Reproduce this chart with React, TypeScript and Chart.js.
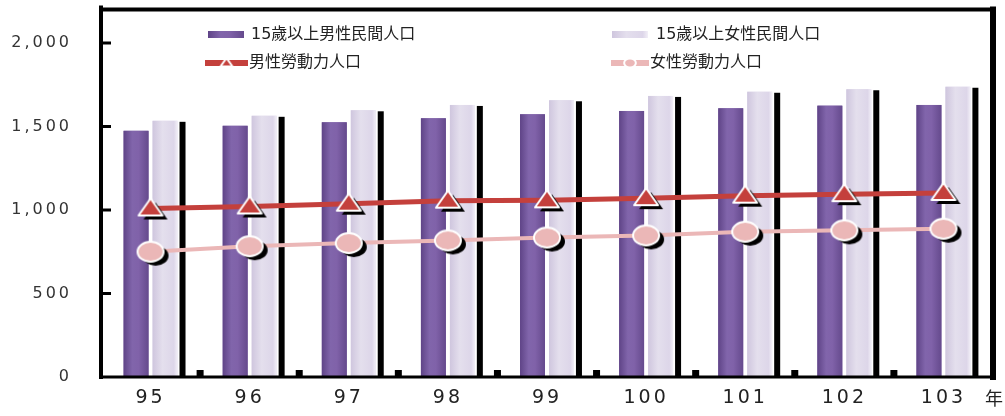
import React, { useEffect, useRef } from "react";
import { Chart, registerables } from "chart.js";

Chart.register(...registerables);

const years = ["95", "96", "97", "98", "99", "100", "101", "102", "103"];
const malePop = [1474, 1504, 1525, 1549, 1573, 1593, 1609, 1625, 1629];
const femalePop = [1534, 1564, 1597, 1629, 1657, 1683, 1708, 1723, 1738];
const maleLabor = [1009, 1021, 1038, 1056, 1058, 1071, 1086, 1095, 1102];
const femaleLabor = [750, 783, 802, 818, 835, 848, 870, 878, 888];
const yTicks = [0, 500, 1000, 1500, 2000];
const seriesNames = [
  "15歲以上男性民間人口",
  "15歲以上女性民間人口",
  "男性勞動力人口",
  "女性勞動力人口",
];
const unitLabel = "年";

const PURPLE = "#7a5ca3";
const LAVENDER = "#ddd7e9";
const RED = "#c4403c";
const PINK = "#ebb7b7";
const FONT = '"DejaVu Sans", "Noto Sans CJK TC", sans-serif';

function makeMarker(kind: "tri" | "ell", fill: string, shadow: boolean, scale = 1) {
  const c = document.createElement("canvas");
  const W = Math.round(44 * scale);
  const H = Math.round(36 * scale);
  c.width = W;
  c.height = H;
  const g = c.getContext("2d")!;
  const cx = W / 2;
  const cy = H / 2;
  const path = (dx: number, dy: number) => {
    g.beginPath();
    if (kind === "tri") {
      g.moveTo(cx + dx, cy - 10 * scale + dy);
      g.lineTo(cx + 12 * scale + dx, cy + 7 * scale + dy);
      g.lineTo(cx - 12 * scale + dx, cy + 7 * scale + dy);
      g.closePath();
    } else {
      g.ellipse(cx + dx, cy + dy, 13 * scale, 10 * scale, 0, 0, Math.PI * 2);
    }
  };
  if (shadow) {
    path(5 * scale, 4 * scale);
    g.fillStyle = "#000";
    g.fill();
  }
  path(0, 0);
  g.fillStyle = fill;
  g.fill();
  g.lineWidth = 2;
  g.strokeStyle = "#fff";
  g.lineJoin = "round";
  g.stroke();
  return c;
}

function purpleGrad(ctx: CanvasRenderingContext2D, x0: number, x1: number) {
  const gr = ctx.createLinearGradient(x0, 0, x1, 0);
  gr.addColorStop(0, "#5f4487");
  gr.addColorStop(0.35, "#8165ab");
  gr.addColorStop(0.6, "#8062a9");
  gr.addColorStop(1, "#654a8d");
  return gr;
}
function lavenderGrad(ctx: CanvasRenderingContext2D, x0: number, x1: number) {
  const gr = ctx.createLinearGradient(x0, 0, x1, 0);
  gr.addColorStop(0, "#cfc6de");
  gr.addColorStop(0.4, "#e4dfed");
  gr.addColorStop(0.85, "#ddd6e9");
  gr.addColorStop(1, "#f2eff7");
  return gr;
}

const decorPlugin = {
  id: "decor",
  beforeDraw(chart: any) {
    (chart.ctx as any).letterSpacing = "3px";
  },
  beforeDatasetDraw(chart: any, args: any) {
    if (args.index !== 1) return;
    const ctx = chart.ctx;
    const meta = chart.getDatasetMeta(1);
    ctx.save();
    ctx.fillStyle = "#000";
    meta.data.forEach((el: any) => {
      const p = el.getProps(["x", "y", "width", "base"], true);
      ctx.fillRect(p.x + p.width / 2 + 2, p.y + 1, 6, p.base - p.y - 1);
    });
    ctx.restore();
  },
  afterDatasetDraw(chart: any, args: any) {
    if (args.index > 1) return;
    const ctx = chart.ctx;
    const meta = chart.getDatasetMeta(args.index);
    ctx.save();
    meta.data.forEach((el: any) => {
      const p = el.getProps(["x", "y", "width", "base"], true);
      const x0 = p.x - p.width / 2;
      const x1 = p.x + p.width / 2;
      ctx.fillStyle = args.index === 0 ? purpleGrad(ctx, x0, x1) : lavenderGrad(ctx, x0, x1);
      ctx.fillRect(x0, p.y, p.width, p.base - p.y);
    });
    ctx.restore();
  },
  beforeDatasetsDraw(chart: any) {
    const ctx = chart.ctx;
    (ctx as any).letterSpacing = "0px";
    const a = chart.chartArea;
    const xs = chart.scales.x;
    ctx.save();
    ctx.fillStyle = "#000";
    for (let i = 1; i < years.length; i++) {
      const bx = (xs.getPixelForValue(i - 1) + xs.getPixelForValue(i)) / 2;
      ctx.fillRect(bx - 3.5, a.bottom - 7, 7, 7);
    }
    ctx.restore();
  },
  afterDatasetsDraw(chart: any) {
    const ctx = chart.ctx;
    const a = chart.chartArea;
    const ys = chart.scales.y;
    ctx.save();
    ctx.strokeStyle = "#000";
    ctx.lineCap = "square";
    ctx.lineWidth = 4;
    ctx.beginPath();
    ctx.moveTo(a.left, a.top);
    ctx.lineTo(a.right, a.top);
    ctx.stroke();
    ctx.lineWidth = 6;
    ctx.beginPath();
    ctx.moveTo(a.right, a.top);
    ctx.lineTo(a.right, a.bottom);
    ctx.stroke();
    ctx.lineWidth = 4;
    ctx.beginPath();
    ctx.moveTo(a.left, a.top - 2);
    ctx.lineTo(a.left, a.bottom);
    ctx.stroke();
    ctx.lineWidth = 3;
    ctx.beginPath();
    ctx.moveTo(a.left, a.bottom);
    ctx.lineTo(a.right, a.bottom);
    ctx.stroke();
    ctx.lineWidth = 3;
    ctx.lineCap = "butt";
    yTicks.forEach((v) => {
      if (v === 0) return;
      const y = ys.getPixelForValue(v);
      ctx.beginPath();
      ctx.moveTo(a.left, y);
      ctx.lineTo(a.left + 10, y);
      ctx.stroke();
    });
    ctx.restore();
  },
  afterDraw(chart: any) {
    const ctx = chart.ctx;
    ctx.save();
    (ctx as any).letterSpacing = "0px";
    ctx.font = `16px ${FONT}`;
    ctx.textBaseline = "middle";
    ctx.textAlign = "left";
    const r1 = 35;
    ctx.fillStyle = purpleGrad(ctx, 208, 244);
    ctx.fillRect(208, r1 - 4, 36, 7);
    ctx.fillStyle = lavenderGrad(ctx, 612, 648);
    ctx.fillRect(612, r1 - 4, 36, 7);
    ctx.fillStyle = "#222";
    ctx.fillText(seriesNames[0], 251, r1);
    ctx.fillText(seriesNames[1], 656, r1);
    const r2 = 63;
    ctx.lineWidth = 6;
    ctx.strokeStyle = RED;
    ctx.beginPath();
    ctx.moveTo(205, r2);
    ctx.lineTo(248, r2);
    ctx.stroke();
    ctx.strokeStyle = PINK;
    ctx.beginPath();
    ctx.moveTo(611, r2);
    ctx.lineTo(649, r2);
    ctx.stroke();
    const t = makeMarker("tri", RED, false, 0.5);
    ctx.drawImage(t, 226.5 - t.width / 2, r2 - t.height / 2);
    const e = makeMarker("ell", PINK, false, 0.45);
    ctx.drawImage(e, 630 - e.width / 2, r2 - e.height / 2);
    ctx.fillStyle = "#222";
    ctx.fillText(seriesNames[2], 249, r2);
    ctx.fillText(seriesNames[3], 650, r2);
    ctx.font = `18px ${FONT}`;
    ctx.textAlign = "center";
    ctx.fillText(unitLabel, 994, 400);
    ctx.restore();
  },
};

export default function App() {
  const ref = useRef<HTMLCanvasElement | null>(null);
  useEffect(() => {
    document.body.style.margin = "0";
    const canvas = ref.current!;
    const triImg = makeMarker("tri", RED, true);
    const ellImg = makeMarker("ell", PINK, true);
    const chart = new Chart(canvas, {
      type: "bar",
      data: {
        labels: years,
        datasets: [
          {
            type: "bar",
            label: seriesNames[0],
            data: malePop,
            backgroundColor: PURPLE,
            borderWidth: 0,
            categoryPercentage: 0.585,
            barPercentage: 0.86,
            order: 2,
          },
          {
            type: "bar",
            label: seriesNames[1],
            data: femalePop,
            backgroundColor: LAVENDER,
            borderWidth: 0,
            categoryPercentage: 0.585,
            barPercentage: 0.86,
            order: 2,
          },
          {
            type: "line",
            label: seriesNames[2],
            data: maleLabor,
            borderColor: RED,
            backgroundColor: RED,
            borderWidth: 5,
            pointStyle: triImg as any,
            pointRadius: 10,
            fill: false,
            tension: 0,
            order: 0,
          },
          {
            type: "line",
            label: seriesNames[3],
            data: femaleLabor,
            borderColor: PINK,
            backgroundColor: PINK,
            borderWidth: 4,
            pointStyle: ellImg as any,
            pointRadius: 10,
            fill: false,
            tension: 0,
            order: 1,
          },
        ] as any,
      },
      options: {
        animation: false,
        responsive: false,
        maintainAspectRatio: false,
        devicePixelRatio: 1,
        layout: { autoPadding: false, padding: { top: 8, right: 12, left: 0, bottom: 0 } } as any,
        plugins: {
          legend: { display: false },
          tooltip: { enabled: false },
        },
        scales: {
          x: {
            grid: { display: false, drawTicks: false },
            border: { display: false },
            ticks: {
              color: "#222",
              font: { family: FONT, size: 19 },
              padding: 10,
              maxRotation: 0,
            },
            afterFit: (s: any) => {
              s.height = 39;
            },
          },
          y: {
            min: 0,
            max: 2200,
            grid: {
              display: true,
              drawOnChartArea: false,
              drawTicks: true,
              tickLength: 29,
              color: "rgba(0,0,0,0)",
            },
            border: { display: false },
            afterBuildTicks: (s: any) => {
              s.ticks = yTicks.map((v) => ({ value: v }));
            },
            ticks: {
              color: "#333",
              font: { family: FONT, size: 16 },
              padding: 0,
              callback: (v: any) => Number(v).toLocaleString("en-US"),
            },
            afterFit: (s: any) => {
              s.width = 101;
            },
          },
        },
      },
      plugins: [decorPlugin],
    });
    return () => chart.destroy();
  }, []);
  return (
    <div style={{ position: "absolute", left: 0, top: 0, width: 1005, height: 416, background: "#fff" }}>
      <canvas ref={ref} width={1005} height={416} style={{ width: 1005, height: 416, display: "block" }} />
    </div>
  );
}
